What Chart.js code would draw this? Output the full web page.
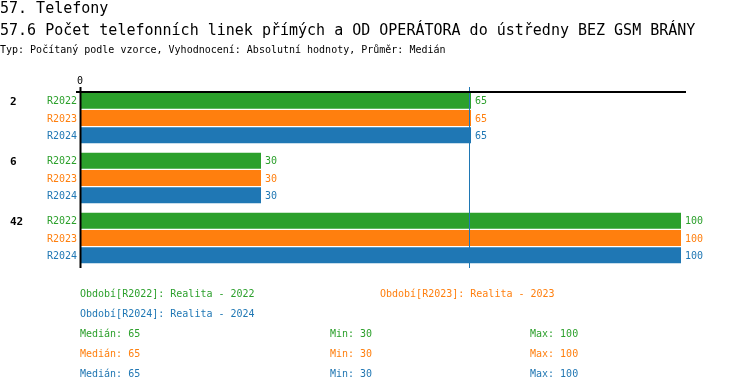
<!DOCTYPE html>
<html>
<head>
<meta charset="utf-8">
<script src="https://cdn.jsdelivr.net/npm/chart.js@4"></script>
<style>
  body { margin: 0; background: #fff; }
  #wrap { position: relative; width: 750px; height: 392px; overflow: hidden; font-family: "DejaVu Sans Mono", monospace; }
  #chart { position: absolute; left: 0; top: 0; }
  .txt { position: absolute; white-space: pre; }
  .t1 { font-size: 15px; line-height: 17px; color: #000; }
  .t3 { font-size: 10px; line-height: 12px; color: #000; }
  .lg { font-size: 10px; line-height: 12px; }
</style>
</head>
<body>
<div id="wrap">
  <canvas id="chart" width="750" height="392"></canvas>
  <div class="txt t1" style="left:0px;top:0px">57. Telefony</div>
  <div class="txt t1" style="left:0px;top:22px">57.6 Počet telefonních linek přímých a OD OPERÁTORA do ústředny BEZ GSM BRÁNY</div>
  <div class="txt t3" style="left:0px;top:44px">Typ: Počítaný podle vzorce, Vyhodnocení: Absolutní hodnoty, Průměr: Medián</div>
  <div id="legend"></div>
</div>
<script>
// categories and series
const categories = ["2", "6", "42"];
const seriesNames = ["R2022", "R2023", "R2024"];
const seriesTitles = ["Realita - 2022", "Realita - 2023", "Realita - 2024"];
const seriesColors = ["#2ca02c", "#ff7f0e", "#1f77b4"];

const valuesR2022 = [65, 30, 100];
const valuesR2023 = [65, 30, 100];
const valuesR2024 = [65, 30, 100];

// summary stats per series
const medians = [65, 65, 65];
const mins = [30, 30, 30];
const maxs = [100, 100, 100];

const xTicks = [0];

const FONT = "'DejaVu Sans Mono', monospace";

// legend + stats as html text
function buildLegend() {
  const legend = document.getElementById("legend");
  const legendPos = [
    [80, 288],
    [380, 288],
    [80, 308],
  ];
  let html = "";
  seriesNames.forEach((name, i) => {
    html += `<div class="txt lg" style="left:${legendPos[i][0]}px;top:${legendPos[i][1]}px;color:${seriesColors[i]}">Období[${name}]: ${seriesTitles[i]}</div>`;
  });
  seriesNames.forEach((name, i) => {
    const top = 328 + i * 20;
    html += `<div class="txt lg" style="left:80px;top:${top}px;color:${seriesColors[i]}">Medián: ${medians[i]}</div>`;
    html += `<div class="txt lg" style="left:330px;top:${top}px;color:${seriesColors[i]}">Min: ${mins[i]}</div>`;
    html += `<div class="txt lg" style="left:530px;top:${top}px;color:${seriesColors[i]}">Max: ${maxs[i]}</div>`;
  });
  legend.innerHTML = html;
}

// axes, median lines and labels
const decorPlugin = {
  id: "decor",
  afterDatasetsDraw(chart) {
    const ctx = chart.ctx;
    const area = chart.chartArea;
    const xs = chart.scales.x;
    ctx.save();

    // median lines
    medians.forEach((m, i) => {
      const px = Math.round(xs.getPixelForValue(m)) - 1.5;
      ctx.strokeStyle = seriesColors[i];
      ctx.lineWidth = 1;
      ctx.beginPath();
      ctx.moveTo(px, area.top - 1);
      ctx.lineTo(px, area.bottom);
      ctx.stroke();
    });

    // top axis line
    ctx.strokeStyle = "#000";
    ctx.lineWidth = 2;
    ctx.beginPath();
    ctx.moveTo(area.left - 5, area.top + 4);
    ctx.lineTo(area.right + 5, area.top + 4);
    ctx.stroke();

    // left axis line
    ctx.lineWidth = 2;
    ctx.beginPath();
    ctx.moveTo(area.left - 0.5, area.top - 1);
    ctx.lineTo(area.left - 0.5, area.bottom);
    ctx.stroke();

    // x ticks
    ctx.fillStyle = "#000";
    ctx.font = "10px " + FONT;
    ctx.textAlign = "center";
    ctx.textBaseline = "middle";
    xTicks.forEach((t) => {
      ctx.fillText(String(t), xs.getPixelForValue(t) - 1, area.top - 7);
    });

    // series labels, value labels, category labels
    chart.data.datasets.forEach((ds, i) => {
      const meta = chart.getDatasetMeta(i);
      meta.data.forEach((bar, j) => {
        ctx.fillStyle = seriesColors[i];
        ctx.font = "10px " + FONT;
        ctx.textAlign = "right";
        ctx.fillText(seriesNames[i], area.left - 4, bar.y + 1);
        ctx.textAlign = "left";
        ctx.fillText(String(ds.data[j]), bar.x + 4, bar.y + 1);
        if (i === 0) {
          ctx.fillStyle = "#000";
          ctx.font = "bold 11px " + FONT;
          ctx.fillText(categories[j], 10, bar.y + 1);
        }
      });
    });

    ctx.restore();
  },
};

function initChart() {
  const ctx = document.getElementById("chart").getContext("2d");
  const seriesValues = [valuesR2022, valuesR2023, valuesR2024];
  new Chart(ctx, {
    type: "bar",
    data: {
      labels: categories,
      datasets: seriesNames.map((name, i) => ({
        label: name,
        data: seriesValues[i],
        backgroundColor: seriesColors[i],
        borderWidth: 0,
        categoryPercentage: 0.86,
        barPercentage: 0.93,
      })),
    },
    options: {
      indexAxis: "y",
      responsive: false,
      animation: false,
      events: [],
      layout: {
        padding: { left: 81, right: 69, top: 88, bottom: 124 },
      },
      scales: {
        x: { display: false, min: 0, max: 100 },
        y: { display: false },
      },
      plugins: {
        legend: { display: false },
        tooltip: { enabled: false },
      },
    },
    plugins: [decorPlugin],
  });
}

buildLegend();
initChart();
</script>
</body>
</html>
